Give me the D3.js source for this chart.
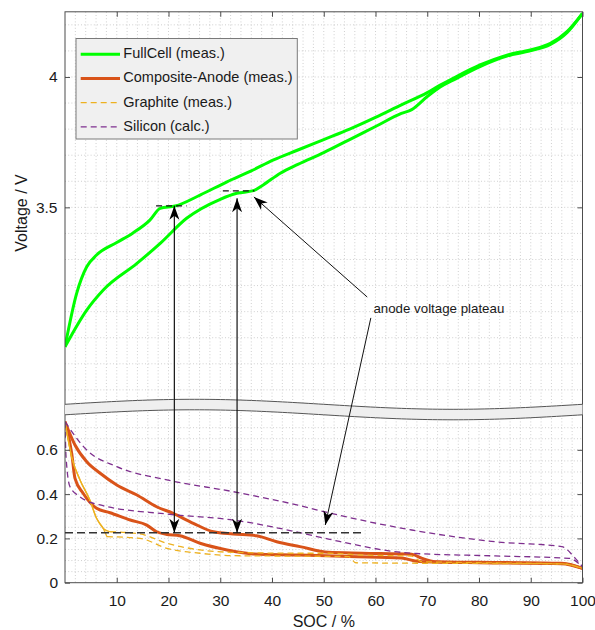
<!DOCTYPE html>
<html><head><meta charset="utf-8">
<script src="https://cdn.jsdelivr.net/npm/d3@7"></script>
<style>
body{margin:0;background:#fff}
text{font-family:"Liberation Sans",Arial,Helvetica,sans-serif;fill:#1a1a1a}
</style>
</head><body>
<svg id="chart" width="595" height="630"></svg>
<script>
// ---------------- data ----------------
const xTicks = [10,20,30,40,50,60,70,80,90,100];
const yTopTicks = [3.5, 4];
const yBotTicks = [0, 0.2, 0.4, 0.6];
const seriesNames = ["FullCell (meas.)","Composite-Anode (meas.)","Graphite (meas.)","Silicon (calc.)"];

// FullCell (top panel, V)
const fullUpSoc = [0,2.25,4.2,6.1,10,13,16.4,18.4,21.3,26.1,31.3,36,40.3,45,50,55,60,65,70,72.5,75,80.2,85.4,89.9,93.8,97,100];
const fullUpV   = [2.965,3.170,3.272,3.317,3.365,3.40,3.451,3.496,3.505,3.547,3.598,3.64,3.682,3.72,3.76,3.80,3.845,3.893,3.94,3.969,3.995,4.046,4.084,4.104,4.129,4.174,4.244];
const fullDnSoc = [0,4.2,7.4,13.9,18.4,23.5,30,33.2,36.4,38.3,41.6,45,50,55,60,65,67,70,72.5,75,80.2,85.4,89.9,93.8,97,100];
const fullDnV   = [2.965,3.106,3.183,3.285,3.362,3.458,3.531,3.554,3.564,3.586,3.631,3.665,3.71,3.76,3.81,3.86,3.875,3.925,3.962,3.988,4.040,4.080,4.100,4.125,4.170,4.244];

// Composite anode (bottom panel, V)
const compUpSoc = [0,1.93,4.2,6.8,10,13.9,17.7,20.9,24.8,28.7,32.5,37,40.9,45.4,50.9,57.4,67,69,71.5,80,96,100];
const compUpV   = [0.727,0.622,0.546,0.494,0.441,0.396,0.343,0.313,0.268,0.230,0.220,0.212,0.185,0.163,0.137,0.133,0.128,0.110,0.095,0.092,0.088,0.065];
const compDnSoc = [0,1.3,1.93,3.5,6.1,8.7,12.6,15.8,17.7,19.7,22.2,26.1,31.3,36.4,45.4,55,65,68,72,80,96,100];
const compDnV   = [0.727,0.584,0.471,0.404,0.336,0.316,0.283,0.260,0.230,0.218,0.212,0.178,0.148,0.130,0.125,0.118,0.112,0.097,0.093,0.090,0.086,0.065];

// Graphite (meas.)
const graUpSoc = [0,1.3,2.9,4.8,6.1,7.4,8.7,14.5,19.7,26.1,32.5,45.4,50.9,57.4,67,69,80,96,100];
const graUpV   = [0.727,0.566,0.464,0.373,0.291,0.245,0.230,0.220,0.178,0.148,0.137,0.133,0.133,0.125,0.120,0.095,0.090,0.085,0.065];
const graDnSoc = [0,1.3,2.9,4.8,6.1,7.4,8.1,14.5,19.7,26.1,32.5,45.4,54.8,56.2,67,80,96,100];
const graDnV   = [0.727,0.566,0.464,0.373,0.291,0.245,0.208,0.200,0.155,0.133,0.122,0.120,0.118,0.090,0.088,0.087,0.085,0.065];

// Silicon (calc.)
const siUpSoc = [0,4.2,10,19.7,32.5,45,50.9,67,83.1,96,98.6,100];
const siUpV   = [0.727,0.599,0.524,0.464,0.411,0.350,0.316,0.238,0.185,0.163,0.110,0.072];
const siDnSoc = [0,0.2,0.97,2.9,6.8,19.7,32.5,45,50.9,67,83.1,97.4,100];
const siDnV   = [0.727,0.569,0.433,0.388,0.351,0.310,0.283,0.228,0.197,0.133,0.121,0.110,0.072];

// annotations
const plateauArrowSoc = [21.13, 33.25];
const plateauArrowTopV = [3.506, 3.535];
const plateauMarkSoc = [[17.6,23.5],[30.5,36.6]];
const plateauMarkV = [3.506, 3.563];
const anodePlateauV = 0.2257;
const anodePlateauEndSoc = 57.4;
const annotText = "anode voltage plateau";
const annotTextPos = [59.6, 3.11];          // SOC, V (top panel)
const annotTail = [[58.4,3.156],[59.1,3.076]]; // top panel
const annotTipTop = [36.5, 3.540];
const annotTipBot = [50.3, 0.2605];

// ---------------- layout ----------------
const svg = d3.select("#chart");
const L = 65, R = 582.5, T = 11.8, B = 582.7;
const x = d3.scaleLinear().domain([0,100]).range([L,R]);
const yTop = d3.scaleLinear().domain([2.75,4.25]).range([402.9,T]);
const yBot = d3.scaleLinear().domain([0,0.75]).range([B,416.6]);

const col = {full:"#00ff00", comp:"#d95319", gra:"#edb120", si:"#7e2f8e"};

svg.append("defs").append("clipPath").attr("id","clip")
  .append("rect").attr("x",L).attr("y",T).attr("width",R-L).attr("height",B-T);

// grid (minor dotted)
const grid = svg.append("g").attr("stroke","#c4c4c4").attr("stroke-width",0.8).attr("stroke-dasharray","1,2.2");
d3.range(2,100,2).forEach(s=>{
  grid.append("line").attr("x1",x(s)).attr("x2",x(s)).attr("y1",T).attr("y2",B);
});
d3.range(28,43).map(d=>d/10).forEach(v=>{
  grid.append("line").attr("x1",L).attr("x2",R).attr("y1",yTop(v)).attr("y2",yTop(v));
});
d3.range(1,15).map(d=>d*0.05).forEach(v=>{
  grid.append("line").attr("x1",L).attr("x2",R).attr("y1",yBot(v)).attr("y2",yBot(v));
});

// curves
const plot = svg.append("g").attr("clip-path","url(#clip)");
function lineTop(s,v){return d3.line().curve(d3.curveMonotoneX)(s.map((d,i)=>[x(d),yTop(v[i])]));}
function lineBot(s,v){return d3.line().curve(d3.curveMonotoneX)(s.map((d,i)=>[x(d),yBot(v[i])]));}

plot.append("path").attr("d",lineBot(compUpSoc,compUpV)).attr("fill","none").attr("stroke",col.comp).attr("stroke-width",3).attr("stroke-linejoin","round");
plot.append("path").attr("d",lineBot(compDnSoc,compDnV)).attr("fill","none").attr("stroke",col.comp).attr("stroke-width",3).attr("stroke-linejoin","round");

// graphite: noisy start appears solid, then dashed
const graSolidEnd = 8.7;
[[graUpSoc,graUpV],[graDnSoc,graDnV]].forEach(([s,v])=>{
  const k = s.findIndex(d=>d>=graSolidEnd-0.7);
  plot.append("path").attr("d",lineBot(s.slice(0,k+1),v.slice(0,k+1))).attr("fill","none")
    .attr("stroke",col.gra).attr("stroke-width",1.3);
  plot.append("path").attr("d",lineBot(s.slice(k),v.slice(k))).attr("fill","none")
    .attr("stroke",col.gra).attr("stroke-width",1.3).attr("stroke-dasharray","6,4");
});
[[siUpSoc,siUpV],[siDnSoc,siDnV]].forEach(([s,v])=>{
  plot.append("path").attr("d",lineBot(s,v)).attr("fill","none")
    .attr("stroke",col.si).attr("stroke-width",1.3).attr("stroke-dasharray","6,4");
});
plot.append("path").attr("d",lineTop(fullUpSoc,fullUpV)).attr("fill","none").attr("stroke",col.full).attr("stroke-width",3).attr("stroke-linejoin","round");
plot.append("path").attr("d",lineTop(fullDnSoc,fullDnV)).attr("fill","none").attr("stroke",col.full).attr("stroke-width",3).attr("stroke-linejoin","round");

// axes box
svg.append("rect").attr("x",L).attr("y",T).attr("width",R-L).attr("height",B-T)
  .attr("fill","none").attr("stroke","#4d4d4d").attr("stroke-width",1);

// axes (inward ticks)
const fs = "15.5px";
function styleAxis(g){
  g.select(".domain").remove();
  g.selectAll(".tick line").attr("stroke","#4d4d4d");
  g.selectAll(".tick text").attr("fill","#1a1a1a").style("font-size",fs)
    .style("font-family",'"Liberation Sans",Arial,Helvetica,sans-serif');
}
svg.append("g").attr("transform",`translate(0,${B})`)
  .call(d3.axisBottom(x).tickValues(xTicks).tickSize(-5).tickPadding(12).tickFormat(d=>String(d))).call(styleAxis);
svg.append("g").attr("transform",`translate(0,${T})`)
  .call(d3.axisTop(x).tickValues(xTicks).tickSize(-5).tickFormat("")).call(styleAxis);
svg.append("g").attr("transform",`translate(${L},0)`)
  .call(d3.axisLeft(yTop).tickValues(yTopTicks).tickSize(-5).tickPadding(7.5).tickFormat(d=>String(d))).call(styleAxis);
svg.append("g").attr("transform",`translate(${L},0)`)
  .call(d3.axisLeft(yBot).tickValues(yBotTicks).tickSize(-5).tickPadding(7).tickFormat(d=>String(d))).call(styleAxis);
svg.append("g").attr("transform",`translate(${R},0)`)
  .call(d3.axisRight(yTop).tickValues(yTopTicks).tickSize(-5).tickFormat("")).call(styleAxis);
svg.append("g").attr("transform",`translate(${R},0)`)
  .call(d3.axisRight(yBot).tickValues(yBotTicks).tickSize(-5).tickFormat("")).call(styleAxis);

// axis break band
const bandPts = d3.range(0,100.5,1).map(s=>[x(s), 404.3 - 5*Math.sin(2*Math.PI*s/100)]);
const bandTh = 10.5;
const bandPath = d3.line()(bandPts) + "L" + bandPts.slice().reverse().map(p=>p[0]+","+(p[1]+bandTh)).join("L") + "Z";
svg.append("path").attr("d",bandPath).attr("fill","#efefef").attr("stroke","none");
svg.append("path").attr("d",d3.line()(bandPts)).attr("fill","none").attr("stroke","#555").attr("stroke-width",1);
svg.append("path").attr("d",d3.line()(bandPts.map(p=>[p[0],p[1]+bandTh]))).attr("fill","none").attr("stroke","#555").attr("stroke-width",1);

// annotations
const ann = svg.append("g");
function head(tx,ty,ang,len=14,hw=5,notch=10){
  const c=Math.cos(ang), s=Math.sin(ang);
  const pt=(a,b)=>[tx + a*c - b*s, ty + a*s + b*c];
  const p=[pt(0,0),pt(-len,hw),pt(-notch,0),pt(-len,-hw)];
  ann.append("path").attr("d","M"+p.map(q=>q.join(",")).join("L")+"Z").attr("fill","#000");
}
function arrow(x1,y1,x2,y2,both,w){
  ann.append("line").attr("x1",x1).attr("y1",y1).attr("x2",x2).attr("y2",y2)
    .attr("stroke","#111").attr("stroke-width",w);
  const ang = Math.atan2(y2-y1,x2-x1);
  head(x2,y2,ang);
  if(both) head(x1,y1,ang+Math.PI);
}
// anode plateau dashed line
ann.append("line").attr("x1",x(0)).attr("x2",x(anodePlateauEndSoc)).attr("y1",yBot(anodePlateauV)).attr("y2",yBot(anodePlateauV))
  .attr("stroke","#333").attr("stroke-width",1.4).attr("stroke-dasharray","8,4");
plateauMarkSoc.forEach((m,i)=>{
  ann.append("line").attr("x1",x(m[0])).attr("x2",x(m[1])).attr("y1",yTop(plateauMarkV[i])).attr("y2",yTop(plateauMarkV[i]))
    .attr("stroke","#111").attr("stroke-width",1.2).attr("stroke-dasharray","6,4");
});
plateauArrowSoc.forEach((s,i)=>{
  arrow(x(s), yTop(plateauArrowTopV[i]), x(s), yBot(anodePlateauV), true, 1.2);
});
arrow(x(annotTail[0][0]), yTop(annotTail[0][1]), x(annotTipTop[0]), yTop(annotTipTop[1]), false, 1);
arrow(x(annotTail[1][0]), yTop(annotTail[1][1]), x(annotTipBot[0]), yBot(annotTipBot[1]), false, 1);
ann.append("text").attr("x",x(annotTextPos[0])).attr("y",yTop(annotTextPos[1]))
  .attr("dominant-baseline","middle").style("font-size","13.3px").text(annotText);

// axis labels
svg.append("text").attr("x",(L+R)/2).attr("y",627).attr("text-anchor","middle").style("font-size","16px").text("SOC / %");
svg.append("text").attr("transform","translate(27,213) rotate(-90)").attr("text-anchor","middle").style("font-size","16px").text("Voltage / V");

// legend
const lg = svg.append("g");
lg.append("rect").attr("x",76).attr("y",38.5).attr("width",221.3).attr("height",100.5)
  .attr("fill","#f0f0f0").attr("stroke","#7a7a7a").attr("stroke-width",1);
const lgStyles = [
  {c:col.full,w:3,d:null},{c:col.comp,w:3,d:null},{c:col.gra,w:1.3,d:"6,4"},{c:col.si,w:1.3,d:"6,4"}
];
seriesNames.forEach((n,i)=>{
  const yy = 54.3 + i*24.2;
  lg.append("line").attr("x1",80.7).attr("x2",120).attr("y1",yy).attr("y2",yy)
    .attr("stroke",lgStyles[i].c).attr("stroke-width",lgStyles[i].w).attr("stroke-dasharray",lgStyles[i].d);
  lg.append("text").attr("x",123.3).attr("y",yy).attr("dominant-baseline","middle").style("font-size","14.5px").text(n);
});
</script>
</body></html>
